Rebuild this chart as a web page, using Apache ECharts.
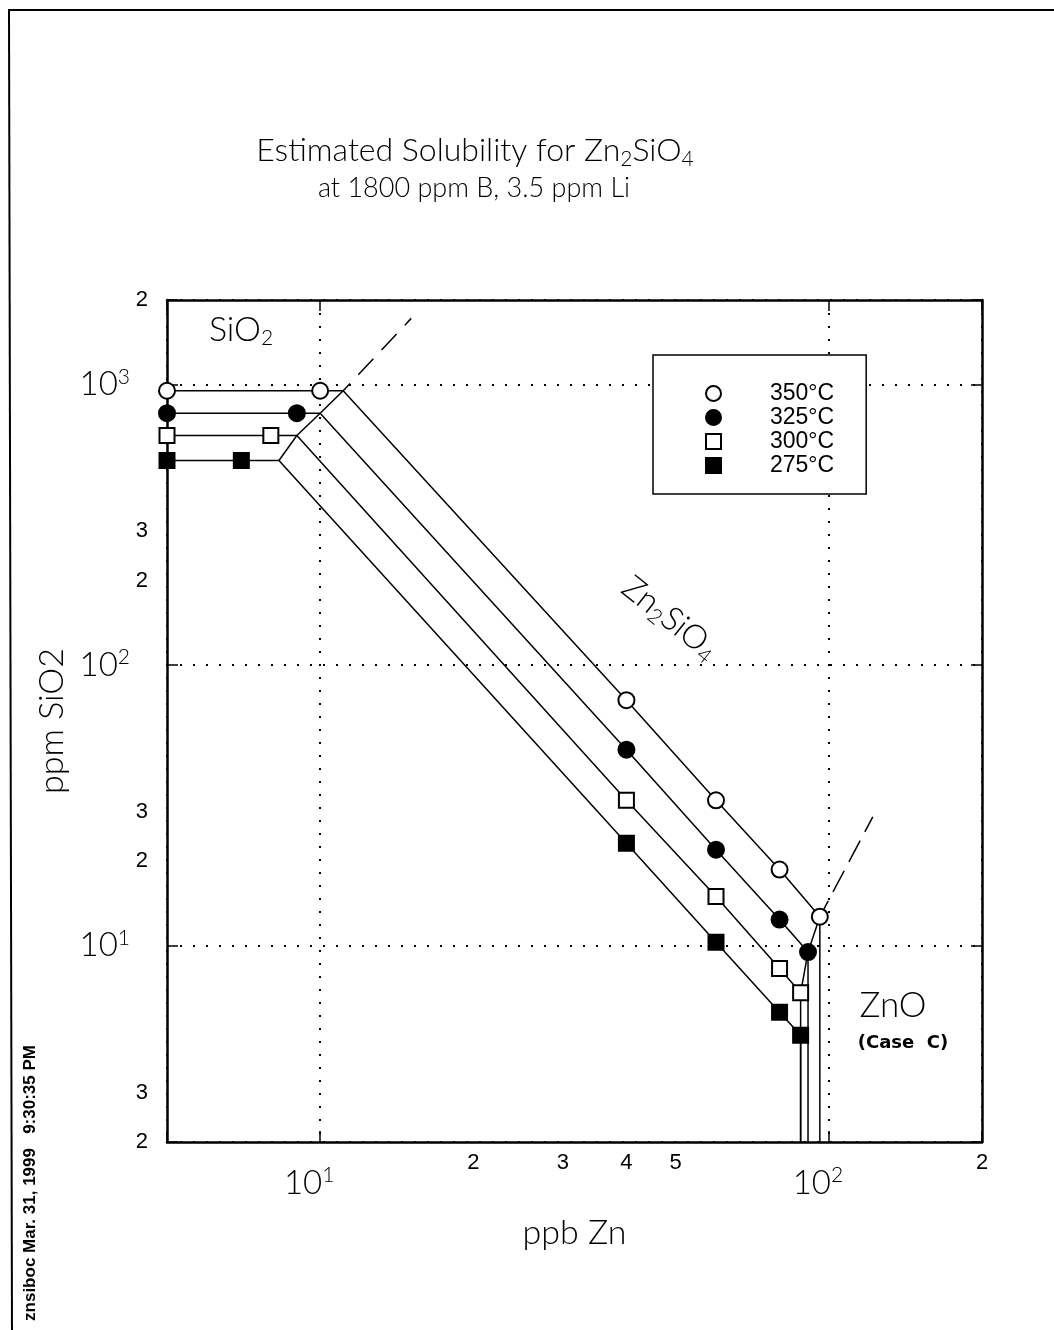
<!DOCTYPE html>
<html><head><meta charset="utf-8">
<script src="https://cdn.jsdelivr.net/npm/echarts@6/dist/echarts.min.js"></script>
<style>html,body{margin:0;padding:0;background:#fff}#chart{width:1054px;height:1330px}</style>
</head><body><div id="chart"></div>
<script>
// ---- data (ppb Zn, ppm SiO2) ----
const temps = ['350°C', '325°C', '300°C', '275°C'];

const markers350 = [[5, 950], [10, 950], [40, 75], [60, 33], [80, 18.7], [96, 12.7]];
const markers325 = [[5, 790], [9, 790], [40, 50], [60, 22], [80, 12.4], [91, 9.5]];
const markers300 = [[5, 658], [8, 658], [40, 33], [60, 15], [80, 8.3], [88, 6.8]];
const markers275 = [[5, 536], [7, 536], [40, 23.2], [60, 10.3], [80, 5.8], [88, 4.8]];

const curve350 = [[5, 950], [10, 950], [11.1, 950], [40, 75], [60, 33], [80, 18.7], [96, 12.7], [96, 2]];
const curve325 = [[5, 790], [9, 790], [10, 790], [40, 50], [60, 22], [80, 12.4], [91, 9.5], [91, 2]];
const curve300 = [[5, 658], [8, 658], [9.0, 658], [40, 33], [60, 15], [80, 8.3], [88, 6.8], [88, 2]];
const curve275 = [[5, 536], [7, 536], [8.3, 536], [40, 23.2], [60, 10.3], [80, 5.8], [88, 4.8], [88, 2]];

const sio2Boundary = [[8.3, 536], [9.0, 658], [10, 790], [11.1, 950]];
const sio2BoundaryExt = [[11.1, 950], [15.1, 1720]];
const znoBoundary = [[88, 6.8], [91, 9.5], [96, 12.7]];
const znoBoundaryExt = [[96, 12.7], [122, 28.8]];

// ---- tick labels ----
const xMinorTicks = [20, 30, 40, 50, 200];
const xMinorLabels = ['2', '3', '4', '5', '2'];
const xDecadeTicks = [10, 100];
const xDecadeExp = ['1', '2'];
const yMinorTicks = [2, 3, 20, 30, 200, 300, 2000];
const yMinorLabels = ['2', '3', '2', '3', '2', '3', '2'];
const yDecadeTicks = [10, 100, 1000];
const yDecadeExp = ['1', '2', '3'];

function pick(ticks, labels) {
  return function (v) {
    for (let i = 0; i < ticks.length; i++) {
      if (Math.abs(ticks[i] - v) / ticks[i] < 1e-4) return labels[i];
    }
    return '';
  };
}
function pickDecade(ticks, exps) {
  const f = pick(ticks, exps);
  return function (v) { const e = f(v); return e ? '{d|10}{s|' + e + '}' : ''; };
}

const GEO = 'Lato, "Open Sans", sans-serif';
const HEL = '"Liberation Sans", Arial, sans-serif';
const NARROW = '"Liberation Sans Narrow", "Liberation Sans", Arial, sans-serif';
const decRich = {
  d: { fontFamily: GEO, fontWeight: 300, fontSize: 33, color: '#000', lineHeight: 36 },
  s: { fontFamily: GEO, fontWeight: 300, fontSize: 21, color: '#000', verticalAlign: 'top', lineHeight: 21 }
};
const subRich = function (size) {
  return { sub: { fontFamily: GEO, fontWeight: 300, fontSize: size, fill: '#000', verticalAlign: 'bottom', lineHeight: size } };
};

const frameLine = { show: true, onZero: false, lineStyle: { color: '#000', width: 2.5 } };
const innerTick = { show: true, inside: true, length: 11, lineStyle: { color: '#000', width: 1.5 } };
const dotted = { show: true, lineStyle: { color: '#000', width: 2, type: [2, 11] } };

const chart = echarts.init(document.getElementById('chart'), null, { renderer: 'canvas' });

function curveSeries(name, data) {
  return { name: name, type: 'line', data: data, symbol: 'none', silent: true, z: 2,
    lineStyle: { color: '#000', width: 1.5 }, xAxisIndex: 0, yAxisIndex: 0 };
}
function markerSeries(name, data, symbol, filled, size) {
  return { name: name, type: 'scatter', data: data, symbol: symbol, symbolSize: size, z: 4,
    itemStyle: { color: filled ? '#000' : '#fff', borderColor: '#000', borderWidth: 2, opacity: 1 },
    xAxisIndex: 0, yAxisIndex: 0 };
}

const option = {
  animation: false,
  backgroundColor: '#fff',
  grid: { left: 167, right: 72, top: 300, bottom: 188, show: false },
  xAxis: [
    { type: 'log', logBase: 10, min: 5, max: 200, position: 'bottom',
      name: 'ppb Zn', nameLocation: 'middle', nameGap: 74,
      nameTextStyle: { fontFamily: GEO, fontWeight: 300, fontSize: 34, color: '#000' },
      axisLine: frameLine, axisTick: innerTick, splitLine: dotted,
      axisLabel: { customValues: xMinorTicks, formatter: pick(xMinorTicks, xMinorLabels),
        margin: 10, color: '#000', fontSize: 22, fontFamily: HEL } },
    { type: 'log', logBase: 10, min: 5, max: 200, position: 'bottom',
      axisLine: { show: false }, axisTick: { show: false }, splitLine: { show: false },
      axisLabel: { customValues: xDecadeTicks, formatter: pickDecade(xDecadeTicks, xDecadeExp),
        margin: 23, rich: decRich, padding: [0, 22, 0, 0] } },
    { type: 'log', logBase: 10, min: 5, max: 200, position: 'top',
      axisLine: frameLine, axisTick: innerTick, splitLine: { show: false }, axisLabel: { show: false } }
  ],
  yAxis: [
    { type: 'log', logBase: 10, min: 2, max: 2000, position: 'left',
      name: 'ppm SiO2', nameLocation: 'middle', nameGap: 98, nameRotate: 90,
      nameTextStyle: { fontFamily: GEO, fontWeight: 300, fontSize: 34, color: '#000' },
      axisLine: frameLine, axisTick: innerTick, splitLine: dotted,
      axisLabel: { customValues: yMinorTicks, formatter: pick(yMinorTicks, yMinorLabels),
        margin: 19, color: '#000', fontSize: 22, fontFamily: HEL } },
    { type: 'log', logBase: 10, min: 2, max: 2000, position: 'left',
      axisLine: { show: false }, axisTick: { show: false }, splitLine: { show: false },
      axisLabel: { customValues: yDecadeTicks, formatter: pickDecade(yDecadeTicks, yDecadeExp),
        margin: 37, rich: decRich } },
    { type: 'log', logBase: 10, min: 2, max: 2000, position: 'right',
      axisLine: frameLine, axisTick: innerTick, splitLine: { show: false }, axisLabel: { show: false } }
  ],
  legend: {
    data: temps, orient: 'vertical', left: 653, top: 355,
    padding: [27, 32, 17, 52], itemWidth: 15, itemHeight: 15, itemGap: 1,
    backgroundColor: '#fff', borderColor: '#000', borderWidth: 1.5, borderRadius: 0,
    itemStyle: { borderWidth: 2, borderColor: '#000' },
    textStyle: { fontFamily: NARROW, fontSize: 23, lineHeight: 21, color: '#000', padding: [0, 0, 0, 44] },
    selectedMode: false
  },
  series: [
    curveSeries('350 curve', curve350),
    curveSeries('325 curve', curve325),
    curveSeries('300 curve', curve300),
    curveSeries('275 curve', curve275),
    curveSeries('SiO2 / Zn2SiO4 boundary', sio2Boundary),
    curveSeries('ZnO / Zn2SiO4 boundary', znoBoundary),
    { name: 'SiO2 boundary ext', type: 'line', data: sio2BoundaryExt, symbol: 'none', silent: true, z: 2,
      lineStyle: { color: '#000', width: 1.5, type: [22, 12], dashOffset: 12 } },
    { name: 'ZnO boundary ext', type: 'line', data: znoBoundaryExt, symbol: 'none', silent: true, z: 2,
      lineStyle: { color: '#000', width: 1.5, type: [24, 10], dashOffset: 6 } },
    markerSeries(temps[0], markers350, 'circle', false, 16),
    markerSeries(temps[1], markers325, 'circle', true, 16),
    markerSeries(temps[2], markers300, 'rect', false, 15),
    markerSeries(temps[3], markers275, 'rect', true, 15)
  ],
  graphic: [
    { type: 'line', shape: { x1: 8, y1: 10, x2: 1054, y2: 10 }, style: { stroke: '#000', lineWidth: 2 }, silent: true },
    { type: 'line', shape: { x1: 9, y1: 10, x2: 12, y2: 1330 }, style: { stroke: '#000', lineWidth: 2 }, silent: true },
    { type: 'text', x: 475, y: 151, silent: true,
      style: { text: 'Estimated Solubility for Zn{sub|2}SiO{sub|4}', fontFamily: GEO, fontWeight: 300, fontSize: 32,
        lineHeight: 38, fill: '#000', align: 'center', verticalAlign: 'middle', rich: subRich(21) } },
    { type: 'text', x: 474, y: 188, silent: true,
      style: { text: 'at 1800 ppm B, 3.5 ppm Li', fontFamily: GEO, fontWeight: 300, fontSize: 27,
        fill: '#000', align: 'center', verticalAlign: 'middle' } },
    { type: 'text', x: 241, y: 330, silent: true,
      style: { text: 'SiO{sub|2}', fontFamily: GEO, fontWeight: 300, fontSize: 34, lineHeight: 38,
        fill: '#000', align: 'center', verticalAlign: 'middle', rich: subRich(21) } },
    { type: 'text', x: 670, y: 618, rotation: -38.5 * Math.PI / 180, silent: true,
      style: { text: 'Zn{sub|2}SiO{sub|4}', fontFamily: GEO, fontWeight: 300, fontSize: 33, lineHeight: 38,
        fill: '#000', align: 'center', verticalAlign: 'middle', rich: subRich(21) } },
    { type: 'text', x: 893, y: 1006, silent: true,
      style: { text: 'ZnO', fontFamily: GEO, fontWeight: 300, fontSize: 35, fill: '#000', align: 'center', verticalAlign: 'middle' } },
    { type: 'text', x: 903, y: 1043, silent: true,
      style: { text: '(Case  C)', fontFamily: '"DejaVu Sans", sans-serif', fontWeight: 'bold', fontSize: 18,
        fill: '#000', align: 'center', verticalAlign: 'middle' } },
    { type: 'text', x: 30, y: 1183, rotation: Math.PI / 2, silent: true,
      style: { text: 'znsiboc Mar. 31, 1999   9:30:35 PM', fontFamily: NARROW, fontWeight: 'bold', fontSize: 17,
        fill: '#000', align: 'center', verticalAlign: 'middle' } }
  ]
};
chart.setOption(option);
</script>
</body></html>
